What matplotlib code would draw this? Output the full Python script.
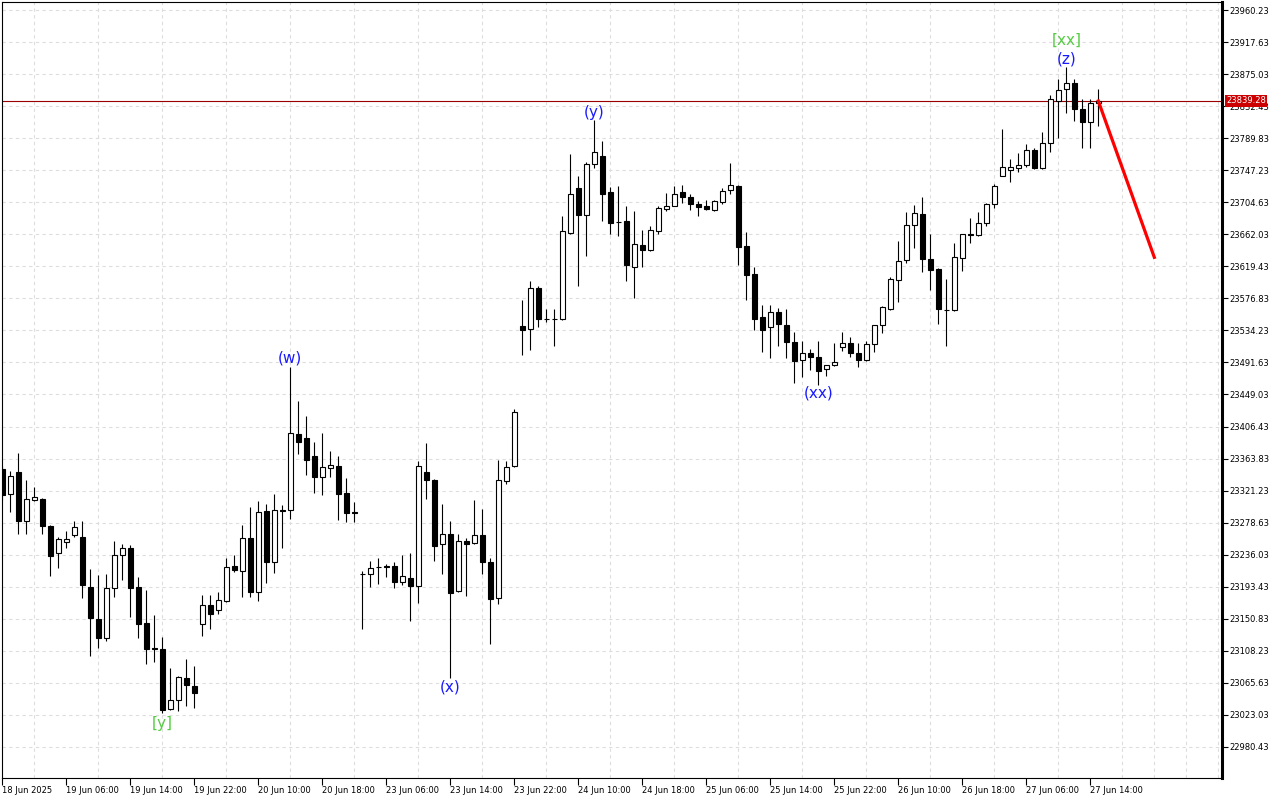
import matplotlib.pyplot as plt

# H1 candles, oldest first
opens = [23350, 23317, 23346, 23281, 23309, 23310, 23274, 23238, 23253, 23262,
         23260, 23193, 23151, 23125, 23192, 23236, 23245, 23193, 23145, 23111.5,
         23111, 23031, 23043, 23072, 23062, 23144, 23169, 23162, 23174, 23221,
         23214, 23258, 23186, 23294, 23226, 23295, 23295, 23396, 23391, 23367,
         23339, 23351, 23354, 23318, 23293, 23211, 23210, 23220, 23221, 23221,
         23200, 23205, 23194, 23346, 23335, 23250, 23264, 23188, 23254, 23252,
         23262, 23226, 23178, 23334, 23354, 23540, 23536, 23591, 23550, 23550,
         23549, 23664, 23724, 23688, 23755, 23766, 23718, 23679, 23680, 23618,
         23648, 23641, 23666, 23696, 23700, 23718, 23712, 23702, 23700, 23694,
         23705, 23721, 23726, 23646, 23609, 23552, 23539, 23559, 23541, 23519,
         23495, 23504, 23499, 23483, 23488, 23512, 23517, 23504, 23495, 23516,
         23542, 23563, 23601, 23628, 23674, 23689, 23629, 23616, 23561.5, 23561,
         23630, 23662, 23661, 23677, 23702, 23739, 23747, 23750, 23754, 23774,
         23750, 23783, 23839, 23855, 23863, 23829, 23811, 23837]
highs = [23354, 23347, 23371, 23335, 23326, 23311, 23276, 23260, 23268, 23281,
         23281, 23217, 23209, 23210, 23254, 23250, 23249, 23206, 23189, 23156,
         23127, 23085, 23075, 23097, 23088, 23182, 23182, 23186, 23232, 23236,
         23276, 23299, 23307, 23303, 23317, 23302, 23486, 23440, 23420, 23386,
         23398, 23374, 23367, 23338, 23306, 23214, 23228, 23232, 23224, 23226,
         23236, 23238, 23361, 23385, 23336, 23303, 23281, 23264, 23258, 23309,
         23297, 23232, 23362, 23360, 23430, 23575, 23600, 23593, 23563, 23563,
         23686, 23769, 23740, 23758, 23814, 23786, 23725, 23726, 23700, 23693,
         23668, 23673, 23700, 23717, 23726, 23728, 23716, 23706, 23708, 23708,
         23724, 23757, 23727, 23665, 23618, 23568, 23568, 23564, 23563, 23532,
         23520, 23510, 23520, 23488.5, 23517, 23532, 23525, 23517, 23520, 23542,
         23567, 23605, 23653, 23692, 23701, 23712, 23662, 23617, 23603, 23650,
         23662.5, 23684, 23692, 23704, 23729, 23802, 23762, 23770, 23782, 23777,
         23798, 23847, 23868, 23884, 23868, 23842, 23842, 23855]
lows = [23309, 23293, 23264, 23264, 23308, 23264, 23208, 23218, 23245, 23259,
        23178, 23101, 23112, 23121, 23180, 23202, 23153, 23125, 23091, 23093,
        23025, 23029, 23028, 23035, 23032, 23128, 23137, 23157, 23173, 23213,
        23180, 23180, 23174, 23198, 23212, 23245, 23283, 23370, 23342, 23318,
        23315, 23339, 23282, 23280, 23280, 23137, 23193, 23197, 23206, 23192,
        23196, 23148, 23172, 23310, 23228, 23210, 23072, 23186, 23181, 23250,
        23210, 23117, 23170, 23330, 23352, 23502, 23508, 23539, 23545, 23514,
        23548, 23663, 23593, 23633, 23750, 23680, 23662, 23660, 23600, 23577,
        23618, 23640, 23662, 23693, 23699, 23704, 23694, 23686, 23694, 23693,
        23702, 23716, 23621, 23575, 23535, 23505, 23497, 23513, 23497, 23464,
        23472, 23482, 23462, 23474, 23487, 23507, 23499, 23486, 23494, 23505,
        23531, 23561, 23572, 23624, 23644, 23612, 23588, 23543, 23513, 23560,
        23613, 23650, 23660, 23673, 23697, 23739, 23731, 23745, 23751, 23749,
        23749, 23771, 23790, 23823, 23813, 23777, 23777, 23806]
closes = [23315, 23341, 23281, 23310, 23313, 23274, 23234, 23257, 23257, 23273,
          23196, 23152, 23125, 23192, 23236, 23245, 23192, 23144, 23111, 23110,
          23030, 23043, 23073, 23063, 23052, 23169, 23157, 23176, 23220, 23216,
          23258, 23186, 23293, 23226, 23295, 23294, 23398, 23386, 23362, 23339,
          23353, 23355, 23317, 23291, 23292, 23210, 23218, 23219.5, 23220, 23200,
          23208, 23194, 23354, 23335, 23248, 23264, 23185, 23254, 23250, 23262,
          23226, 23177, 23335, 23353, 23426, 23535, 23591, 23549, 23549, 23549,
          23666, 23716, 23688, 23755, 23771, 23716, 23677, 23678, 23621, 23649,
          23641, 23668, 23697, 23700, 23716, 23712, 23702, 23698, 23695, 23706,
          23720, 23728, 23645, 23608, 23549, 23535, 23559, 23543, 23519, 23493,
          23504, 23499, 23480, 23488, 23492, 23517, 23504, 23495, 23516, 23541,
          23566, 23602, 23626, 23674, 23690, 23629, 23614, 23563, 23561, 23632,
          23662, 23661.5, 23677, 23702, 23726, 23751, 23751.5, 23754, 23774, 23750,
          23783, 23842, 23854, 23863, 23829, 23811, 23837, 23839.28]

time_labels = ["18 Jun 2025", "19 Jun 06:00", "19 Jun 14:00", "19 Jun 22:00",
               "20 Jun 10:00", "20 Jun 18:00", "23 Jun 06:00", "23 Jun 14:00",
               "23 Jun 22:00", "24 Jun 10:00", "24 Jun 18:00", "25 Jun 06:00",
               "25 Jun 14:00", "25 Jun 22:00", "26 Jun 10:00", "26 Jun 18:00",
               "27 Jun 06:00", "27 Jun 14:00"]
price_ticks = [22980.43, 23023.03, 23065.63, 23108.23, 23150.83, 23193.43,
               23236.03, 23278.63, 23321.23, 23363.83, 23406.43, 23449.03,
               23491.63, 23534.23, 23576.83, 23619.43, 23662.03, 23704.63,
               23747.23, 23789.83, 23832.43, 23875.03, 23917.63, 23960.23]

# wave marks: text, bar, placed above high or below low
wave_text = ["(w)", "(x)", "(y)", "(xx)", "(z)", "[xx]", "[y]"]
wave_bar = [36, 56, 74, 102, 133, 133, 20]
wave_side = ["high", "low", "high", "low", "high", "high", "low"]
wave_color = ["#1a1aff", "#1a1aff", "#1a1aff", "#1a1aff", "#1a1aff", "#55cc44", "#55cc44"]
wave_offset = [9, -9, 8, -8, 8, 27, -10]

forecast_bars = [137, 144]
forecast_prices = [23839.28, 23631.4]

bars = list(range(len(closes)))

fig = plt.figure(figsize=(12.8, 8), dpi=100)
ax = fig.add_axes([2 / 1280, 22 / 800, 1220 / 1280, 776 / 800])

# grid
ax.set_xticks(range(0, 153, 4), minor=True)
ax.grid(which="minor", axis="x", color="#dddddd", linestyle=(0, (3, 3)), linewidth=0.8)
ax.grid(which="major", axis="y", color="#dddddd", linestyle=(0, (3, 3)), linewidth=0.8)
ax.set_axisbelow(True)

# candles
ax.vlines(bars, lows, highs, color="black", linewidth=0.8, zorder=2)
body_bottom = [min(o, c) for o, c in zip(opens, closes)]
body_height = [max(abs(c - o), 0.01) for o, c in zip(opens, closes)]
body_color = ["white" if c >= o else "black" for o, c in zip(opens, closes)]
ax.bar(bars, body_height, bottom=body_bottom, width=0.62, color=body_color,
       edgecolor="black", linewidth=0.8, zorder=3)

# last price line and label
last = closes[-1]
ax.axhline(last, color="#9a0000", linewidth=0.8, zorder=1)
ax.annotate(f"{last:.2f}", xy=(1.0, last), xycoords=("axes fraction", "data"),
            xytext=(4, 0), textcoords="offset pixels", ha="left", va="center",
            fontsize=6, color="white", zorder=10, annotation_clip=False,
            bbox=dict(boxstyle="square,pad=0.15", facecolor="#cc0000", edgecolor="none"))

# forecast
ax.plot(forecast_bars, forecast_prices, color="red", linewidth=2.3, zorder=4)

# wave labels
for txt, b, side, col, off in zip(wave_text, wave_bar, wave_side, wave_color, wave_offset):
    y = highs[b] if side == "high" else lows[b]
    ax.annotate(txt, xy=(b, y), xytext=(0, off), textcoords="offset pixels",
                ha="center", va="center", fontsize=11, color=col, zorder=5)

ax.set_xlim(-0.04, 152.46)
ax.set_ylim(22939.1, 23970.9)

ax.set_xticks([8 * i for i in range(len(time_labels))])
ax.set_xticklabels(time_labels, ha="left")
ax.yaxis.tick_right()
ax.set_yticks(price_ticks)
ax.set_yticklabels([f"{p:.2f}" for p in price_ticks])
ax.tick_params(axis="x", which="major", direction="out", length=5, width=0.8, pad=1, labelsize=6)
ax.tick_params(axis="x", which="minor", length=0)
ax.tick_params(axis="y", direction="out", length=4, width=0.8, pad=1, labelsize=6)

for side in ["top", "left", "bottom"]:
    ax.spines[side].set_linewidth(0.8)
ax.spines["right"].set_linewidth(2.2)

fig.savefig("out.png", dpi=100)
